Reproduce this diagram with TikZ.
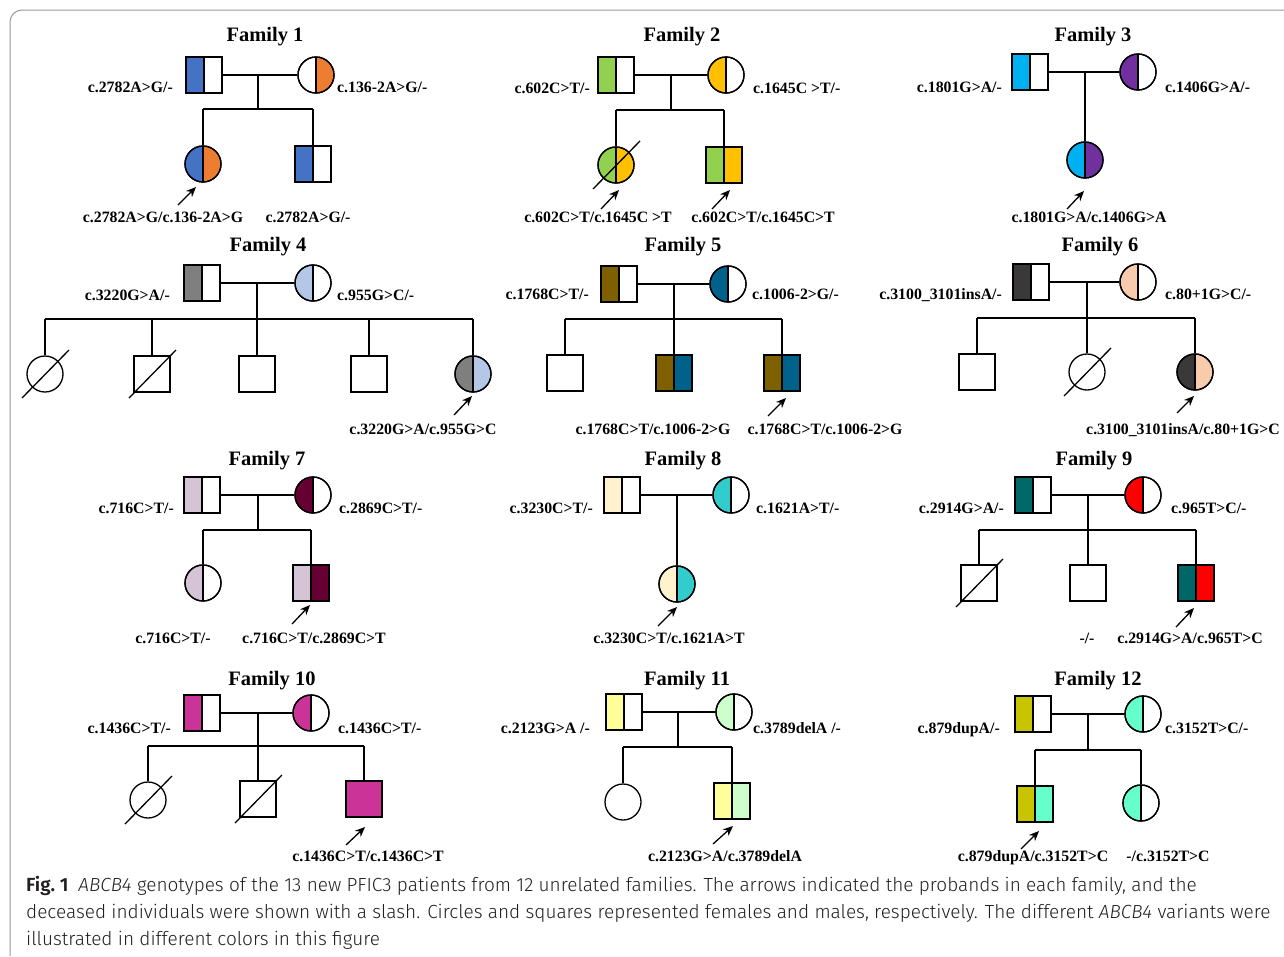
\documentclass[tikz,border=0pt]{standalone}
\usepackage{fontspec}
\setmainfont{Liberation Serif}
\newfontfamily\capfont{Fira Sans Light}[BoldFont={Fira Sans SemiBold},ItalicFont={Fira Sans Light Italic}]
\usetikzlibrary{arrows.meta,calc}
\definecolor{c1a}{HTML}{4472C4}\definecolor{c1b}{HTML}{ED7D31}
\definecolor{c2a}{HTML}{92D050}\definecolor{c2b}{HTML}{FFC000}
\definecolor{c3a}{HTML}{00B0F0}\definecolor{c3b}{HTML}{7030A0}
\definecolor{c4a}{HTML}{7F7F7F}\definecolor{c4b}{HTML}{B4C7E7}
\definecolor{c5a}{HTML}{7F6000}\definecolor{c5b}{HTML}{00628A}
\definecolor{c6a}{HTML}{3A3838}\definecolor{c6b}{HTML}{F8CBAD}
\definecolor{c7a}{HTML}{D5C4D6}\definecolor{c7b}{HTML}{660033}
\definecolor{c8a}{HTML}{FFF2CC}\definecolor{c8b}{HTML}{33CCCC}
\definecolor{c9a}{HTML}{006666}\definecolor{c9b}{HTML}{FF0000}
\definecolor{c10}{HTML}{CC3399}
\definecolor{c11a}{HTML}{FFFF99}\definecolor{c11b}{HTML}{CCFFCC}
\definecolor{c12a}{HTML}{C8C400}\definecolor{c12b}{HTML}{66FFCC}
\definecolor{captxt}{HTML}{231F20}
\definecolor{framec}{HTML}{9A9A9A}
\newcommand\labf{\fontsize{15.8}{18}\selectfont\bfseries}
\newcommand\titf{\fontsize{20.5}{24}\selectfont\bfseries}
\tikzset{
  ln/.style={line width=1.3pt, draw=black},
  halves/.style 2 args={draw, line width=1.3pt, minimum size=36pt, inner sep=0pt,
    path picture={
      \fill[#1] (path picture bounding box.south west) rectangle (path picture bounding box.north);
      \fill[#2] (path picture bounding box.south) rectangle (path picture bounding box.north east);
      \draw[line width=1.3pt] (path picture bounding box.south) -- (path picture bounding box.north);},
    postaction={draw, line width=1.3pt}},
  sq/.style 2 args={rectangle, halves={#1}{#2}},
  ci/.style 2 args={circle, halves={#1}{#2}},
  plain/.style={draw, line width=1.3pt, minimum size=36pt, inner sep=0pt, fill=white},
  sqe/.style={rectangle, plain},
  cie/.style={circle, plain},
  sqfull/.style={rectangle, plain, fill=#1},
  lab/.style={font=\labf, inner sep=0pt},
  ftitle/.style={font=\titf, inner sep=0pt, anchor=base},
  parr/.style={line width=1.3pt, -{Stealth[length=10pt,width=8.5pt]}},
  capt/.style={font=\capfont\fontsize{19}{22}\selectfont, text=captxt, inner sep=0pt, anchor=base west},
}
\newcommand\psq[5]{\node[sq={#4}{#5}] (#1) at (#2,#3) {};}
\newcommand\pci[5]{\node[ci={#4}{#5}] (#1) at (#2,#3) {};}
\newcommand\esq[3]{\node[sqe] (#1) at (#2,#3) {};}
\newcommand\eci[3]{\node[cie] (#1) at (#2,#3) {};}
\newcommand\dead[1]{\draw[ln] ([shift={(-23,24)}]#1.center) -- ([shift={(24,-24)}]#1.center);}
\newcommand\drop[2]{\draw[ln] (#1 |- #2) -- (#1);}
\begin{document}
\begin{tikzpicture}[x=1pt,y=-1pt]
\useasboundingbox (0,0) rectangle (1284,956);
\fill[white] (0,0) rectangle (1284,956);
\draw[framec, line width=1pt, rounded corners=12pt] (1284,10) -- (10,10) -- (10,956);

% ---------------- Family 1
\node[ftitle] (t1) at (265,41) {Family 1};
\psq{f1f}{204}{75}{c1a}{white}
\pci{f1m}{316}{75}{white}{c1b}
\draw[ln] (f1f) -- (f1m);
\coordinate (f1j) at (258,75); \coordinate (f1s) at (258,109);
\draw[ln] (f1j) -- (f1s);
\pci{f1c1}{203}{164}{c1a}{c1b}
\psq{f1c2}{313}{164}{c1a}{white}
\draw[ln] (f1c1 |- f1s) -- (f1c2 |- f1s);
\drop{f1c1}{f1s}\drop{f1c2}{f1s}
\node[lab, anchor=base east] (l1f) at (173,92) {c.2782A>G/-};
\node[lab, anchor=base west] (l1m) at (337,92) {c.136-2A>G/-};
\node[lab, anchor=base] (l1c1) at (163,222) {c.2782A>G/c.136-2A>G};
\node[lab, anchor=base] (l1c2) at (308,222) {c.2782A>G/-};
\coordinate (a1t) at (178,205); \coordinate (a1h) at (196,187);
\draw[parr] (a1t) -- (a1h);

% ---------------- Family 2
\node[ftitle] (t2) at (682,41) {Family 2};
\psq{f2f}{616}{75}{c2a}{white}
\pci{f2m}{726}{75}{c2b}{white}
\draw[ln] (f2f) -- (f2m);
\coordinate (f2j) at (671,75); \coordinate (f2s) at (671,110);
\draw[ln] (f2j) -- (f2s);
\pci{f2c1}{616}{165}{c2a}{c2b}
\psq{f2c2}{724}{165}{c2a}{c2b}
\draw[ln] (f2c1 |- f2s) -- (f2c2 |- f2s);
\drop{f2c1}{f2s}\drop{f2c2}{f2s}
\dead{f2c1}
\node[lab, anchor=base east] (l2f) at (590,93) {c.602C>T/-};
\node[lab, anchor=base west] (l2m) at (753,93) {c.1645C >T/-};
\node[lab, anchor=base] (l2c1) at (598,222) {c.602C>T/c.1645C >T};
\node[lab, anchor=base] (l2c2) at (763,222) {c.602C>T/c.1645C>T};
\coordinate (a2t) at (601,209); \coordinate (a2h) at (619,190);
\draw[parr] (a2t) -- (a2h);
\coordinate (a2bt) at (712,209); \coordinate (a2bh) at (730,190);
\draw[parr] (a2bt) -- (a2bh);

% ---------------- Family 3
\node[ftitle] (t3) at (1093,41) {Family 3};
\psq{f3f}{1030}{72}{c3a}{white}
\pci{f3m}{1138}{72}{c3b}{white}
\draw[ln] (f3f) -- (f3m);
\coordinate (f3j) at (1085,72);
\pci{f3c1}{1085}{160}{c3a}{c3b}
\draw[ln] (f3j) -- (f3c1);
\node[lab, anchor=base east] (l3f) at (1002,92) {c.1801G>A/-};
\node[lab, anchor=base west] (l3m) at (1165,92) {c.1406G>A/-};
\node[lab, anchor=base] (l3c1) at (1089,222) {c.1801G>A/c.1406G>A};
\coordinate (a3t) at (1067,209); \coordinate (a3h) at (1084,191);
\draw[parr] (a3t) -- (a3h);

% ---------------- Family 4
\node[ftitle] (t4) at (268,251) {Family 4};
\psq{f4f}{202}{283}{c4a}{white}
\pci{f4m}{313}{283}{c4b}{white}
\draw[ln] (f4f) -- (f4m);
\coordinate (f4j) at (257,283); \coordinate (f4s) at (257,319);
\draw[ln] (f4j) -- (f4s);
\eci{f4c1}{45}{374}
\esq{f4c2}{152}{374}
\esq{f4c3}{257}{374}
\esq{f4c4}{369}{374}
\pci{f4c5}{473}{374}{c4a}{c4b}
\draw[ln] (f4c1 |- f4s) -- (f4c5 |- f4s);
\drop{f4c1}{f4s}\drop{f4c2}{f4s}\drop{f4c3}{f4s}\drop{f4c4}{f4s}\drop{f4c5}{f4s}
\dead{f4c1}\dead{f4c2}
\node[lab, anchor=base east] (l4f) at (170,300) {c.3220G>A/-};
\node[lab, anchor=base west] (l4m) at (337,300) {c.955G>C/-};
\node[lab, anchor=base] (l4c5) at (423,434) {c.3220G>A/c.955G>C};
\coordinate (a4t) at (454,415); \coordinate (a4h) at (472,396);
\draw[parr] (a4t) -- (a4h);

% ---------------- Family 5
\node[ftitle] (t5) at (683,251) {Family 5};
\psq{f5f}{619}{284}{c5a}{white}
\pci{f5m}{728}{284}{c5b}{white}
\draw[ln] (f5f) -- (f5m);
\coordinate (f5j) at (674,284); \coordinate (f5s) at (674,319);
\draw[ln] (f5j) -- (f5s);
\esq{f5c1}{565}{373}
\psq{f5c2}{674}{373}{c5a}{c5b}
\psq{f5c3}{782}{373}{c5a}{c5b}
\draw[ln] (f5c1 |- f5s) -- (f5c3 |- f5s);
\drop{f5c1}{f5s}\drop{f5c2}{f5s}\drop{f5c3}{f5s}
\node[lab, anchor=base east] (l5f) at (589,299) {c.1768C>T/-};
\node[lab, anchor=base west] (l5m) at (752,299) {c.1006-2>G/-};
\node[lab, anchor=base] (l5c2) at (653,434) {c.1768C>T/c.1006-2>G};
\node[lab, anchor=base] (l5c3) at (825,434) {c.1768C>T/c.1006-2>G};
\coordinate (a5t) at (768,416); \coordinate (a5h) at (786,398);
\draw[parr] (a5t) -- (a5h);

% ---------------- Family 6
\node[ftitle] (t6) at (1100,251) {Family 6};
\psq{f6f}{1031}{282}{c6a}{white}
\pci{f6m}{1138}{282}{c6b}{white}
\draw[ln] (f6f) -- (f6m);
\coordinate (f6j) at (1087,282); \coordinate (f6s) at (1087,318);
\draw[ln] (f6j) -- (f6s);
\esq{f6c1}{977}{372}
\eci{f6c2}{1087}{372}
\pci{f6c3}{1195}{372}{c6a}{c6b}
\draw[ln] (f6c1 |- f6s) -- (f6c3 |- f6s);
\drop{f6c1}{f6s}\drop{f6c2}{f6s}\drop{f6c3}{f6s}
\dead{f6c2}
\node[lab, anchor=base east] (l6f) at (1002,299) {c.3100\_3101insA/-};
\node[lab, anchor=base west] (l6m) at (1165,299) {c.80+1G>C/-};
\node[lab, anchor=base] (l6c3) at (1183,434) {c.3100\_3101insA/c.80+1G>C};
\coordinate (a6t) at (1177,413); \coordinate (a6h) at (1194,396);
\draw[parr] (a6t) -- (a6h);

% ---------------- Family 7
\node[ftitle] (t7) at (267,465) {Family 7};
\psq{f7f}{202}{495}{c7a}{white}
\pci{f7m}{313}{495}{c7b}{white}
\draw[ln] (f7f) -- (f7m);
\coordinate (f7j) at (258,495); \coordinate (f7s) at (258,530);
\draw[ln] (f7j) -- (f7s);
\pci{f7c1}{203}{583}{c7a}{white}
\psq{f7c2}{311}{583}{c7a}{c7b}
\draw[ln] (f7c1 |- f7s) -- (f7c2 |- f7s);
\drop{f7c1}{f7s}\drop{f7c2}{f7s}
\node[lab, anchor=base east] (l7f) at (174,513) {c.716C>T/-};
\node[lab, anchor=base west] (l7m) at (339,513) {c.2869C>T/-};
\node[lab, anchor=base] (l7c1) at (173,643) {c.716C>T/-};
\node[lab, anchor=base] (l7c2) at (314,643) {c.716C>T/c.2869C>T};
\coordinate (a7t) at (292,624); \coordinate (a7h) at (310,605);
\draw[parr] (a7t) -- (a7h);

% ---------------- Family 8
\node[ftitle] (t8) at (683,465) {Family 8};
\psq{f8f}{622}{495}{c8a}{white}
\pci{f8m}{731}{495}{c8b}{white}
\draw[ln] (f8f) -- (f8m);
\coordinate (f8j) at (677,495);
\pci{f8c1}{677}{584}{c8a}{c8b}
\draw[ln] (f8j) -- (f8c1);
\node[lab, anchor=base east] (l8f) at (593,513) {c.3230C>T/-};
\node[lab, anchor=base west] (l8m) at (756,513) {c.1621A>T/-};
\node[lab, anchor=base] (l8c1) at (669,643) {c.3230C>T/c.1621A>T};
\coordinate (a8t) at (658,626); \coordinate (a8h) at (677,607);
\draw[parr] (a8t) -- (a8h);

% ---------------- Family 9
\node[ftitle] (t9) at (1094,465) {Family 9};
\psq{f9f}{1033}{495}{c9a}{white}
\pci{f9m}{1143}{495}{c9b}{white}
\draw[ln] (f9f) -- (f9m);
\coordinate (f9j) at (1088,495); \coordinate (f9s) at (1088,530);
\draw[ln] (f9j) -- (f9s);
\esq{f9c1}{979}{583}
\esq{f9c2}{1088}{583}
\psq{f9c3}{1196}{583}{c9a}{c9b}
\draw[ln] (f9c1 |- f9s) -- (f9c3 |- f9s);
\drop{f9c1}{f9s}\drop{f9c2}{f9s}\drop{f9c3}{f9s}
\dead{f9c1}
\node[lab, anchor=base east] (l9f) at (1004,513) {c.2914G>A/-};
\node[lab, anchor=base west] (l9m) at (1171,513) {c.965T>C/-};
\node[lab, anchor=base] (l9c2) at (1087,643) {-/-};
\node[lab, anchor=base] (l9c3) at (1190,643) {c.2914G>A/c.965T>C};
\coordinate (a9t) at (1176,627); \coordinate (a9h) at (1194,608);
\draw[parr] (a9t) -- (a9h);

% ---------------- Family 10
\node[ftitle] (t10) at (272,685) {Family 10};
\psq{f10f}{202}{713}{c10}{white}
\pci{f10m}{311}{713}{c10}{white}
\draw[ln] (f10f) -- (f10m);
\coordinate (f10j) at (258,713); \coordinate (f10s) at (258,746);
\draw[ln] (f10j) -- (f10s);
\eci{f10c1}{148}{800}
\esq{f10c2}{258}{799}
\node[sqfull=c10] (f10c3) at (364,799) {};
\draw[ln] (f10c1 |- f10s) -- (f10c3 |- f10s);
\drop{f10c1}{f10s}\drop{f10c2}{f10s}\drop{f10c3}{f10s}
\dead{f10c1}\dead{f10c2}
\node[lab, anchor=base east] (l10f) at (171,733) {c.1436C>T/-};
\node[lab, anchor=base west] (l10m) at (338,733) {c.1436C>T/-};
\node[lab, anchor=base] (l10c3) at (368,861) {c.1436C>T/c.1436C>T};
\coordinate (a10t) at (346,845); \coordinate (a10h) at (365,827);
\draw[parr] (a10t) -- (a10h);

% ---------------- Family 11
\node[ftitle] (t11) at (687,685) {Family 11};
\psq{f11f}{624}{712}{c11a}{white}
\pci{f11m}{734}{712}{c11b}{white}
\draw[ln] (f11f) -- (f11m);
\coordinate (f11j) at (678,712); \coordinate (f11s) at (678,747);
\draw[ln] (f11j) -- (f11s);
\eci{f11c1}{623}{802}
\psq{f11c2}{732}{801}{c11a}{c11b}
\draw[ln] (f11c1 |- f11s) -- (f11c2 |- f11s);
\drop{f11c1}{f11s}\drop{f11c2}{f11s}
\node[lab, anchor=base east] (l11f) at (590,733) {c.2123G>A /-};
\node[lab, anchor=base west] (l11m) at (753,733) {c.3789delA /-};
\node[lab, anchor=base] (l11c2) at (725,861) {c.2123G>A/c.3789delA};
\coordinate (a11t) at (713,844); \coordinate (a11h) at (733,826);
\draw[parr] (a11t) -- (a11h);

% ---------------- Family 12
\node[ftitle] (t12) at (1098,685) {Family 12};
\psq{f12f}{1033}{714}{c12a}{white}
\pci{f12m}{1143}{714}{c12b}{white}
\draw[ln] (f12f) -- (f12m);
\coordinate (f12j) at (1088,714); \coordinate (f12s) at (1088,750);
\draw[ln] (f12j) -- (f12s);
\psq{f12c1}{1035}{804}{c12a}{c12b}
\pci{f12c2}{1141}{803}{c12b}{white}
\draw[ln] (f12c1 |- f12s) -- (f12c2 |- f12s);
\drop{f12c1}{f12s}\drop{f12c2}{f12s}
\node[lab, anchor=base east] (l12f) at (1000,733) {c.879dupA/-};
\node[lab, anchor=base west] (l12m) at (1165,733) {c.3152T>C/-};
\node[lab, anchor=base] (l12c1) at (1033,861) {c.879dupA/c.3152T>C};
\node[lab, anchor=base] (l12c2) at (1168,861) {-/c.3152T>C};
\coordinate (a12t) at (1021,849); \coordinate (a12h) at (1039,831);
\draw[parr] (a12t) -- (a12h);

% ---------------- Caption
\node[capt] (cap1) at (26,891) {{\bfseries Fig.~1}\hspace{10pt}\textit{ABCB4} genotypes of the 13 new PFIC3 patients from 12 unrelated families. The arrows indicated the probands in each family, and the};
\node[capt] (cap2) at (26,918) {deceased individuals were shown with a slash. Circles and squares represented females and males, respectively. The different \textit{ABCB4} variants were};
\node[capt] (cap3) at (26,945) {illustrated in different colors in this figure};
\end{tikzpicture}
\end{document}
